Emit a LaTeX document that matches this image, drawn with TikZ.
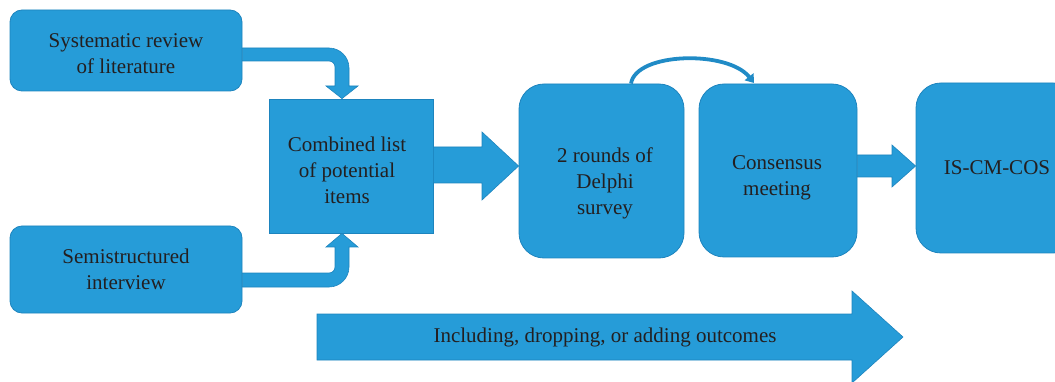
\documentclass[tikz,border=0pt]{standalone}
\usepackage{fontspec}
\setmainfont{Liberation Serif}
\usetikzlibrary{calc,arrows.meta}
\definecolor{boxblue}{HTML}{269CD8}
\definecolor{boxedge}{HTML}{1D84BE}
\definecolor{txt}{HTML}{231F20}
\begin{document}
\begin{tikzpicture}[x=1pt,y=-1pt,
  shapebox/.style={draw=boxedge, line width=0.8pt, fill=boxblue, inner sep=0pt},
  lbl/.style={text=txt, font=\fontsize{21}{26}\selectfont, align=center, inner sep=0pt},
  blockarrow/.style={draw=boxedge, line width=0.6pt, fill=boxblue}]
\useasboundingbox (0,0) rectangle (1055,382);
\clip (0,0) rectangle (1055,382);

% boxes
\node[shapebox, rounded corners=12pt, minimum width=232pt, minimum height=81pt] (srl) at (126,50.5) {};
\node[lbl] (srltext) at (126,53.5) {Systematic review\\of literature};
\node[shapebox, rounded corners=12pt, minimum width=232pt, minimum height=87pt] (ssi) at (126,269.5) {};
\node[lbl] (ssitext) at (126,269.5) {Semistructured\\interview};
\node[shapebox, minimum width=164pt, minimum height=134pt] (comb) at (351,166) {};
\node[lbl] (combtext) at (347,170.5) {Combined list\\of potential\\items};
\node[shapebox, rounded corners=25pt, minimum width=165pt, minimum height=174pt] (delphi) at (601.5,171) {};
\node[lbl] (delphitext) at (605,183) {2 rounds of\\Delphi\\survey};
\node[shapebox, rounded corners=25pt, minimum width=158pt, minimum height=173pt] (cons) at (778,170.5) {};
\node[lbl] (constext) at (777,177.5) {Consensus\\meeting};
\node[shapebox, rounded corners=25pt, minimum width=162pt, minimum height=170pt] (iscm) at (997,168) {};
\node[lbl] (iscmtext) at (997,167.5) {IS-CM-COS};

% bent arrow from systematic review
\path[blockarrow] (srl.east |- 0,48) -- (329,48) .. controls (340,48) and (349,57) .. (349,68)
  -- (349,86) -- (358,86) -- (comb.north -| 342,0) -- (326,86) -- (335,86) -- (335,67)
  .. controls (335,63.7) and (332.3,61) .. (329,61) -- (srl.east |- 0,61) -- cycle;
% bent arrow from interview
\path[blockarrow] (ssi.east |- 0,287) -- (329,287) .. controls (340,287) and (349,278) .. (349,267)
  -- (349,247) -- (358,247) -- (comb.south -| 342,0) -- (326,247) -- (335,247) -- (335,267)
  .. controls (335,270.3) and (332.3,273) .. (329,273) -- (ssi.east |- 0,273) -- cycle;
% combined -> delphi
\path[blockarrow] ($(comb.east)+(0,-19)$) -- (482,147) -- (482,132) -- (delphi.west |- 0,166)
  -- (482,200) -- (482,183) -- ($(comb.east)+(0,17)$) -- cycle;
% consensus -> IS-CM-COS
\path[blockarrow] (cons.east |- 0,155) -- (892,155) -- (892,145) -- (iscm.west |- 0,166)
  -- (892,187) -- (892,177) -- (cons.east |- 0,177) -- cycle;
% curved arrow delphi -> consensus
\coordinate (cstart) at (delphi.north -| 631,0);
\coordinate (cend) at (754,83);
\draw[boxedge!70!boxblue, line width=3.8pt, -{Triangle[width=11pt,length=8pt]}]
  (cstart) .. controls (636,52) and (728,50) .. (cend);

% bottom arrow
\path[blockarrow] (317,314) -- (852,314) -- (852,291) -- (903,337) -- (852,383) -- (852,360) -- (317,360) -- cycle;
\node[lbl] (outcomes) at (605,337.5) {Including, dropping, or adding outcomes};
\end{tikzpicture}
\end{document}
